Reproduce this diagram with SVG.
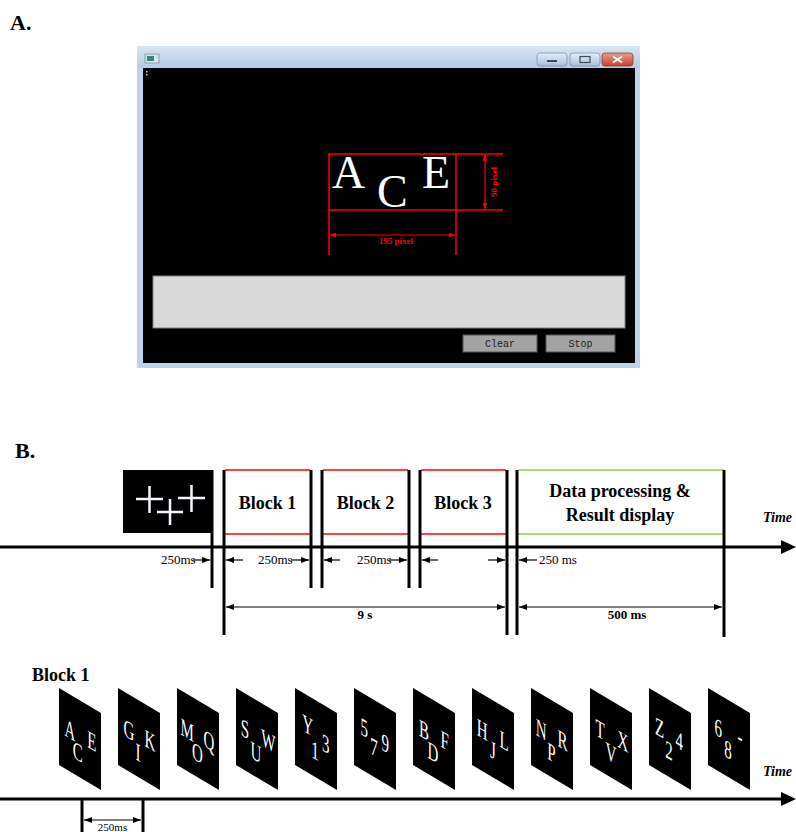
<svg xmlns="http://www.w3.org/2000/svg" width="796" height="832" viewBox="0 0 796 832">
<style>
.lbl{font-family:"Liberation Serif","Times New Roman",serif;font-weight:bold;fill:#000}
.sm{font-family:"Liberation Serif","Times New Roman",serif;font-size:13px;fill:#000}
.blk{font-family:"Liberation Serif","Times New Roman",serif;font-weight:bold;font-size:18px;fill:#000;text-anchor:middle}
.time{font-family:"Liberation Serif","Times New Roman",serif;font-weight:bold;font-style:italic;font-size:14px;fill:#000}
.vl{stroke:#000;stroke-width:3;fill:none}
.ax{stroke:#000;stroke-width:3;fill:none}
.dim{stroke:#000;stroke-width:1.2;fill:none}
.red{stroke:#ff0000;stroke-width:1.5}
.grn{stroke:#8fd150;stroke-width:1.5}
.card{fill:#000}
.cl{font-family:"Liberation Serif","Times New Roman",serif;font-size:25px;fill:#fff}
.btn{font-family:"Liberation Mono","Courier New",monospace;font-size:10px;fill:#222;text-anchor:middle}
</style>
<defs>
<marker id="ah" markerUnits="userSpaceOnUse" markerWidth="8" markerHeight="6" refX="8" refY="3" orient="auto-start-reverse"><path d="M0,0 L8,3 L0,6 z" fill="#000"/></marker>
<marker id="ahr" markerUnits="userSpaceOnUse" markerWidth="6" markerHeight="5" refX="6" refY="2.5" orient="auto-start-reverse"><path d="M0,0 L6,2.5 L0,5 z" fill="#f00"/></marker>
<linearGradient id="title" x1="0" y1="0" x2="0" y2="1"><stop offset="0" stop-color="#d9e6f4"/><stop offset="1" stop-color="#b3cbe6"/></linearGradient>
<linearGradient id="wbtn" x1="0" y1="0" x2="0" y2="1"><stop offset="0" stop-color="#e4edf7"/><stop offset="1" stop-color="#a9c0dc"/></linearGradient>
<linearGradient id="cbtn" x1="0" y1="0" x2="0" y2="1"><stop offset="0" stop-color="#e8a08f"/><stop offset="1" stop-color="#c4402e"/></linearGradient>
</defs>

<!-- Panel labels -->
<text class="lbl" x="10" y="30" font-size="22">A.</text>
<text class="lbl" x="15" y="458" font-size="22">B.</text>

<!-- Panel A: window -->
<g id="window">
<rect x="137" y="46" width="503" height="322" fill="#bcd3ec"/>
<rect x="137" y="46" width="503" height="22" fill="url(#title)"/>
<rect x="145" y="54" width="14" height="9" fill="#d7e2ee" stroke="#7d8ea3" stroke-width="0.8"/>
<rect x="147" y="56" width="7" height="5" fill="#2f8a7a"/>
<rect x="537" y="53" width="30" height="13" rx="3" fill="url(#wbtn)" stroke="#7890ad" stroke-width="0.8"/>
<rect x="547" y="60" width="10" height="2" fill="#3b4a5e"/>
<rect x="570" y="53" width="30" height="13" rx="3" fill="url(#wbtn)" stroke="#7890ad" stroke-width="0.8"/>
<rect x="580" y="56.5" width="10" height="6" fill="none" stroke="#3b4a5e" stroke-width="1.2"/>
<rect x="602" y="53" width="31" height="13" rx="3" fill="url(#cbtn)" stroke="#8a3b30" stroke-width="0.8"/>
<path d="M613,56.5 L622,62.5 M622,56.5 L613,62.5" stroke="#fff" stroke-width="2"/>
<rect x="143" y="68" width="492" height="295" fill="#000"/>
<rect x="146" y="71" width="1.5" height="1.5" fill="#ccc"/>
<rect x="146" y="74" width="1.5" height="1.5" fill="#ccc"/>
<rect x="153" y="276" width="472" height="52" fill="#d9d9d9" stroke="#808080" stroke-width="1"/>
<g id="btn-clear"><rect x="463" y="335" width="74" height="17" fill="#a3a3a3" stroke="#555" stroke-width="1"/><text class="btn" x="500" y="347">Clear</text></g>
<g id="btn-stop"><rect x="546" y="335" width="69" height="17" fill="#a3a3a3" stroke="#555" stroke-width="1"/><text class="btn" x="580.5" y="347">Stop</text></g>
</g>

<g id="ace">
<text x="332" y="188" font-family="Liberation Serif,serif" font-size="46" fill="#fff">A</text>
<text x="377" y="207" font-family="Liberation Serif,serif" font-size="46" fill="#fff">C</text>
<text x="422" y="188" font-family="Liberation Serif,serif" font-size="46" fill="#fff">E</text>
<line class="red" x1="328" y1="154" x2="503" y2="154" stroke-width="2"/>
<line class="red" x1="328" y1="210" x2="503" y2="210" stroke-width="2"/>
<line class="red" x1="329" y1="154" x2="329" y2="255" stroke-width="2"/>
<line class="red" x1="456" y1="154" x2="456" y2="255" stroke-width="2"/>
<line x1="485" y1="155" x2="485" y2="209" stroke="#f00" stroke-width="1.2" marker-start="url(#ahr)" marker-end="url(#ahr)"/>
<line x1="330" y1="235" x2="455" y2="235" stroke="#f00" stroke-width="1.2" marker-start="url(#ahr)" marker-end="url(#ahr)"/>
<text x="396" y="244" font-family="Liberation Serif,serif" font-weight="bold" font-size="9" fill="#f00" text-anchor="middle">195 pixel</text>
<text transform="translate(497,182) rotate(-90)" font-family="Liberation Serif,serif" font-weight="bold" font-size="9" fill="#f00" text-anchor="middle">90 pixel</text>
</g>

<!-- Panel B top timeline -->
<g id="fixation">
<rect x="123" y="470" width="89" height="63" fill="#000"/>
<g stroke="#f4f6ff" stroke-width="2.5">
<path d="M136,499 H163 M149.5,486 V513"/>
<path d="M157,512 H183 M170,499 V525"/>
<path d="M178,498 H205 M191.5,485 V512"/>
</g>
</g>

<g id="block1"><line class="red" x1="225" y1="470" x2="310" y2="470"/><line class="red" x1="225" y1="534" x2="310" y2="534"/><text class="blk" x="267.5" y="509">Block 1</text></g>
<g id="block2"><line class="red" x1="323" y1="470" x2="408" y2="470"/><line class="red" x1="323" y1="534" x2="408" y2="534"/><text class="blk" x="365.5" y="509">Block 2</text></g>
<g id="block3"><line class="red" x1="421" y1="470" x2="506" y2="470"/><line class="red" x1="421" y1="534" x2="506" y2="534"/><text class="blk" x="463" y="509">Block 3</text></g>
<g id="processing"><line class="grn" x1="518" y1="470" x2="724" y2="470"/><line class="grn" x1="518" y1="534" x2="724" y2="534"/><text class="blk" x="620" y="497">Data processing &amp;</text><text class="blk" x="620" y="521">Result display</text></g>

<g id="connectors">
<line class="vl" x1="212" y1="470" x2="212" y2="588"/>
<line class="vl" x1="224" y1="470" x2="224" y2="635"/>
<line class="vl" x1="311" y1="470" x2="311" y2="588"/>
<line class="vl" x1="322" y1="470" x2="322" y2="588"/>
<line class="vl" x1="409" y1="470" x2="409" y2="588"/>
<line class="vl" x1="420" y1="470" x2="420" y2="588"/>
<line class="vl" x1="507" y1="470" x2="507" y2="635"/>
<line class="vl" x1="517" y1="470" x2="517" y2="635"/>
<line class="vl" x1="724" y1="470" x2="724" y2="637"/>
<line class="ax" x1="0" y1="547" x2="784" y2="547"/>
<path d="M781,540 L796,547 L781,554 z" fill="#000"/>

<line class="dim" x1="193" y1="560" x2="210" y2="560" marker-end="url(#ah)"/>
<line class="dim" x1="243" y1="560" x2="226" y2="560" marker-end="url(#ah)"/>
<line class="dim" x1="291" y1="560" x2="309" y2="560" marker-end="url(#ah)"/>
<line class="dim" x1="340" y1="560" x2="324" y2="560" marker-end="url(#ah)"/>
<line class="dim" x1="389" y1="560" x2="407" y2="560" marker-end="url(#ah)"/>
<line class="dim" x1="438" y1="560" x2="422" y2="560" marker-end="url(#ah)"/>
<line class="dim" x1="488" y1="560" x2="505" y2="560" marker-end="url(#ah)"/>
<line class="dim" x1="537" y1="560" x2="519" y2="560" marker-end="url(#ah)"/>

<line class="dim" x1="226" y1="607" x2="505" y2="607" marker-start="url(#ah)" marker-end="url(#ah)"/>
<line class="dim" x1="519" y1="607" x2="722" y2="607" marker-start="url(#ah)" marker-end="url(#ah)"/>

<line class="ax" x1="0" y1="799" x2="784" y2="799"/>
<path d="M781,792 L796,799 L781,806 z" fill="#000"/>
<line class="vl" x1="82" y1="799" x2="82" y2="832" stroke-width="2.5"/>
<line class="vl" x1="143" y1="799" x2="143" y2="832" stroke-width="2.5"/>
<line class="dim" x1="84" y1="820" x2="141" y2="820" marker-start="url(#ah)" marker-end="url(#ah)"/>
</g>

<text class="sm" x="161" y="564">250ms</text>
<text class="sm" x="258" y="564">250ms</text>
<text class="sm" x="357" y="564">250ms</text>
<text class="sm" x="539" y="564">250 ms</text>
<text class="lbl" x="365" y="619" font-size="13" text-anchor="middle">9 s</text>
<text class="lbl" x="627" y="619" font-size="13" text-anchor="middle">500 ms</text>
<text class="time" x="763" y="522">Time</text>
<text class="time" x="763" y="776">Time</text>
<text class="sm" x="112.5" y="831" style="font-size:11px;text-anchor:middle">250ms</text>

<!-- Block 1 stimulus sequence -->
<text class="blk" x="32" y="681" style="text-anchor:start">Block 1</text>
<g id="cards">
<g id="card1" transform="matrix(1,0.595,0,1,59,688)"><rect class="card" width="42" height="77"/><g transform="scale(0.6,1)"><text class="cl" x="9" y="44">A</text><text class="cl" x="23" y="61">C</text><text class="cl" x="47" y="42">E</text></g></g>
<g id="card2" transform="matrix(1,0.595,0,1,118,688)"><rect class="card" width="42" height="77"/><g transform="scale(0.6,1)"><text class="cl" x="9" y="44">G</text><text class="cl" x="29" y="61">I</text><text class="cl" x="44" y="42">K</text></g></g>
<g id="card3" transform="matrix(1,0.595,0,1,177,688)"><rect class="card" width="42" height="77"/><g transform="scale(0.6,1)"><text class="cl" x="6" y="44">M</text><text class="cl" x="25" y="61">O</text><text class="cl" x="44" y="42">Q</text></g></g>
<g id="card4" transform="matrix(1,0.595,0,1,236,688)"><rect class="card" width="42" height="77"/><g transform="scale(0.6,1)"><text class="cl" x="8" y="44">S</text><text class="cl" x="24" y="61">U</text><text class="cl" x="42" y="42">W</text></g></g>
<g id="card5" transform="matrix(1,0.595,0,1,295,688)"><rect class="card" width="42" height="77"/><g transform="scale(0.6,1)"><text class="cl" x="12" y="38" font-size="18">Y</text><text class="cl" x="27" y="59">1</text><text class="cl" x="45" y="46">3</text></g></g>
<g id="card6" transform="matrix(1,0.595,0,1,354,688)"><rect class="card" width="42" height="77"/><g transform="scale(0.6,1)"><text class="cl" x="11" y="42">5</text><text class="cl" x="27" y="56">7</text><text class="cl" x="46" y="45">9</text></g></g>
<g id="card7" transform="matrix(1,0.595,0,1,413,688)"><rect class="card" width="42" height="77"/><g transform="scale(0.6,1)"><text class="cl" x="10" y="44">B</text><text class="cl" x="24" y="61">D</text><text class="cl" x="46" y="42">F</text></g></g>
<g id="card8" transform="matrix(1,0.595,0,1,472,688)"><rect class="card" width="42" height="77"/><g transform="scale(0.6,1)"><text class="cl" x="8" y="44">H</text><text class="cl" x="30" y="58">J</text><text class="cl" x="46" y="42">L</text></g></g>
<g id="card9" transform="matrix(1,0.595,0,1,531,688)"><rect class="card" width="42" height="77"/><g transform="scale(0.6,1)"><text class="cl" x="8" y="44">N</text><text class="cl" x="27" y="61">P</text><text class="cl" x="44" y="42">R</text></g></g>
<g id="card10" transform="matrix(1,0.595,0,1,590,688)"><rect class="card" width="42" height="77"/><g transform="scale(0.6,1)"><text class="cl" x="9" y="44">T</text><text class="cl" x="26" y="61">V</text><text class="cl" x="46" y="42">X</text></g></g>
<g id="card11" transform="matrix(1,0.595,0,1,649,688)"><rect class="card" width="42" height="77"/><g transform="scale(0.6,1)"><text class="cl" x="10" y="42">Z</text><text class="cl" x="27" y="59">2</text><text class="cl" x="44" y="43">4</text></g></g>
<g id="card12" transform="matrix(1,0.595,0,1,708,688)"><rect class="card" width="42" height="77"/><g transform="scale(0.6,1)"><text class="cl" x="11" y="42">6</text><text class="cl" x="27" y="58">8</text><text class="cl" x="49" y="38">-</text></g></g>
</g>
</svg>
